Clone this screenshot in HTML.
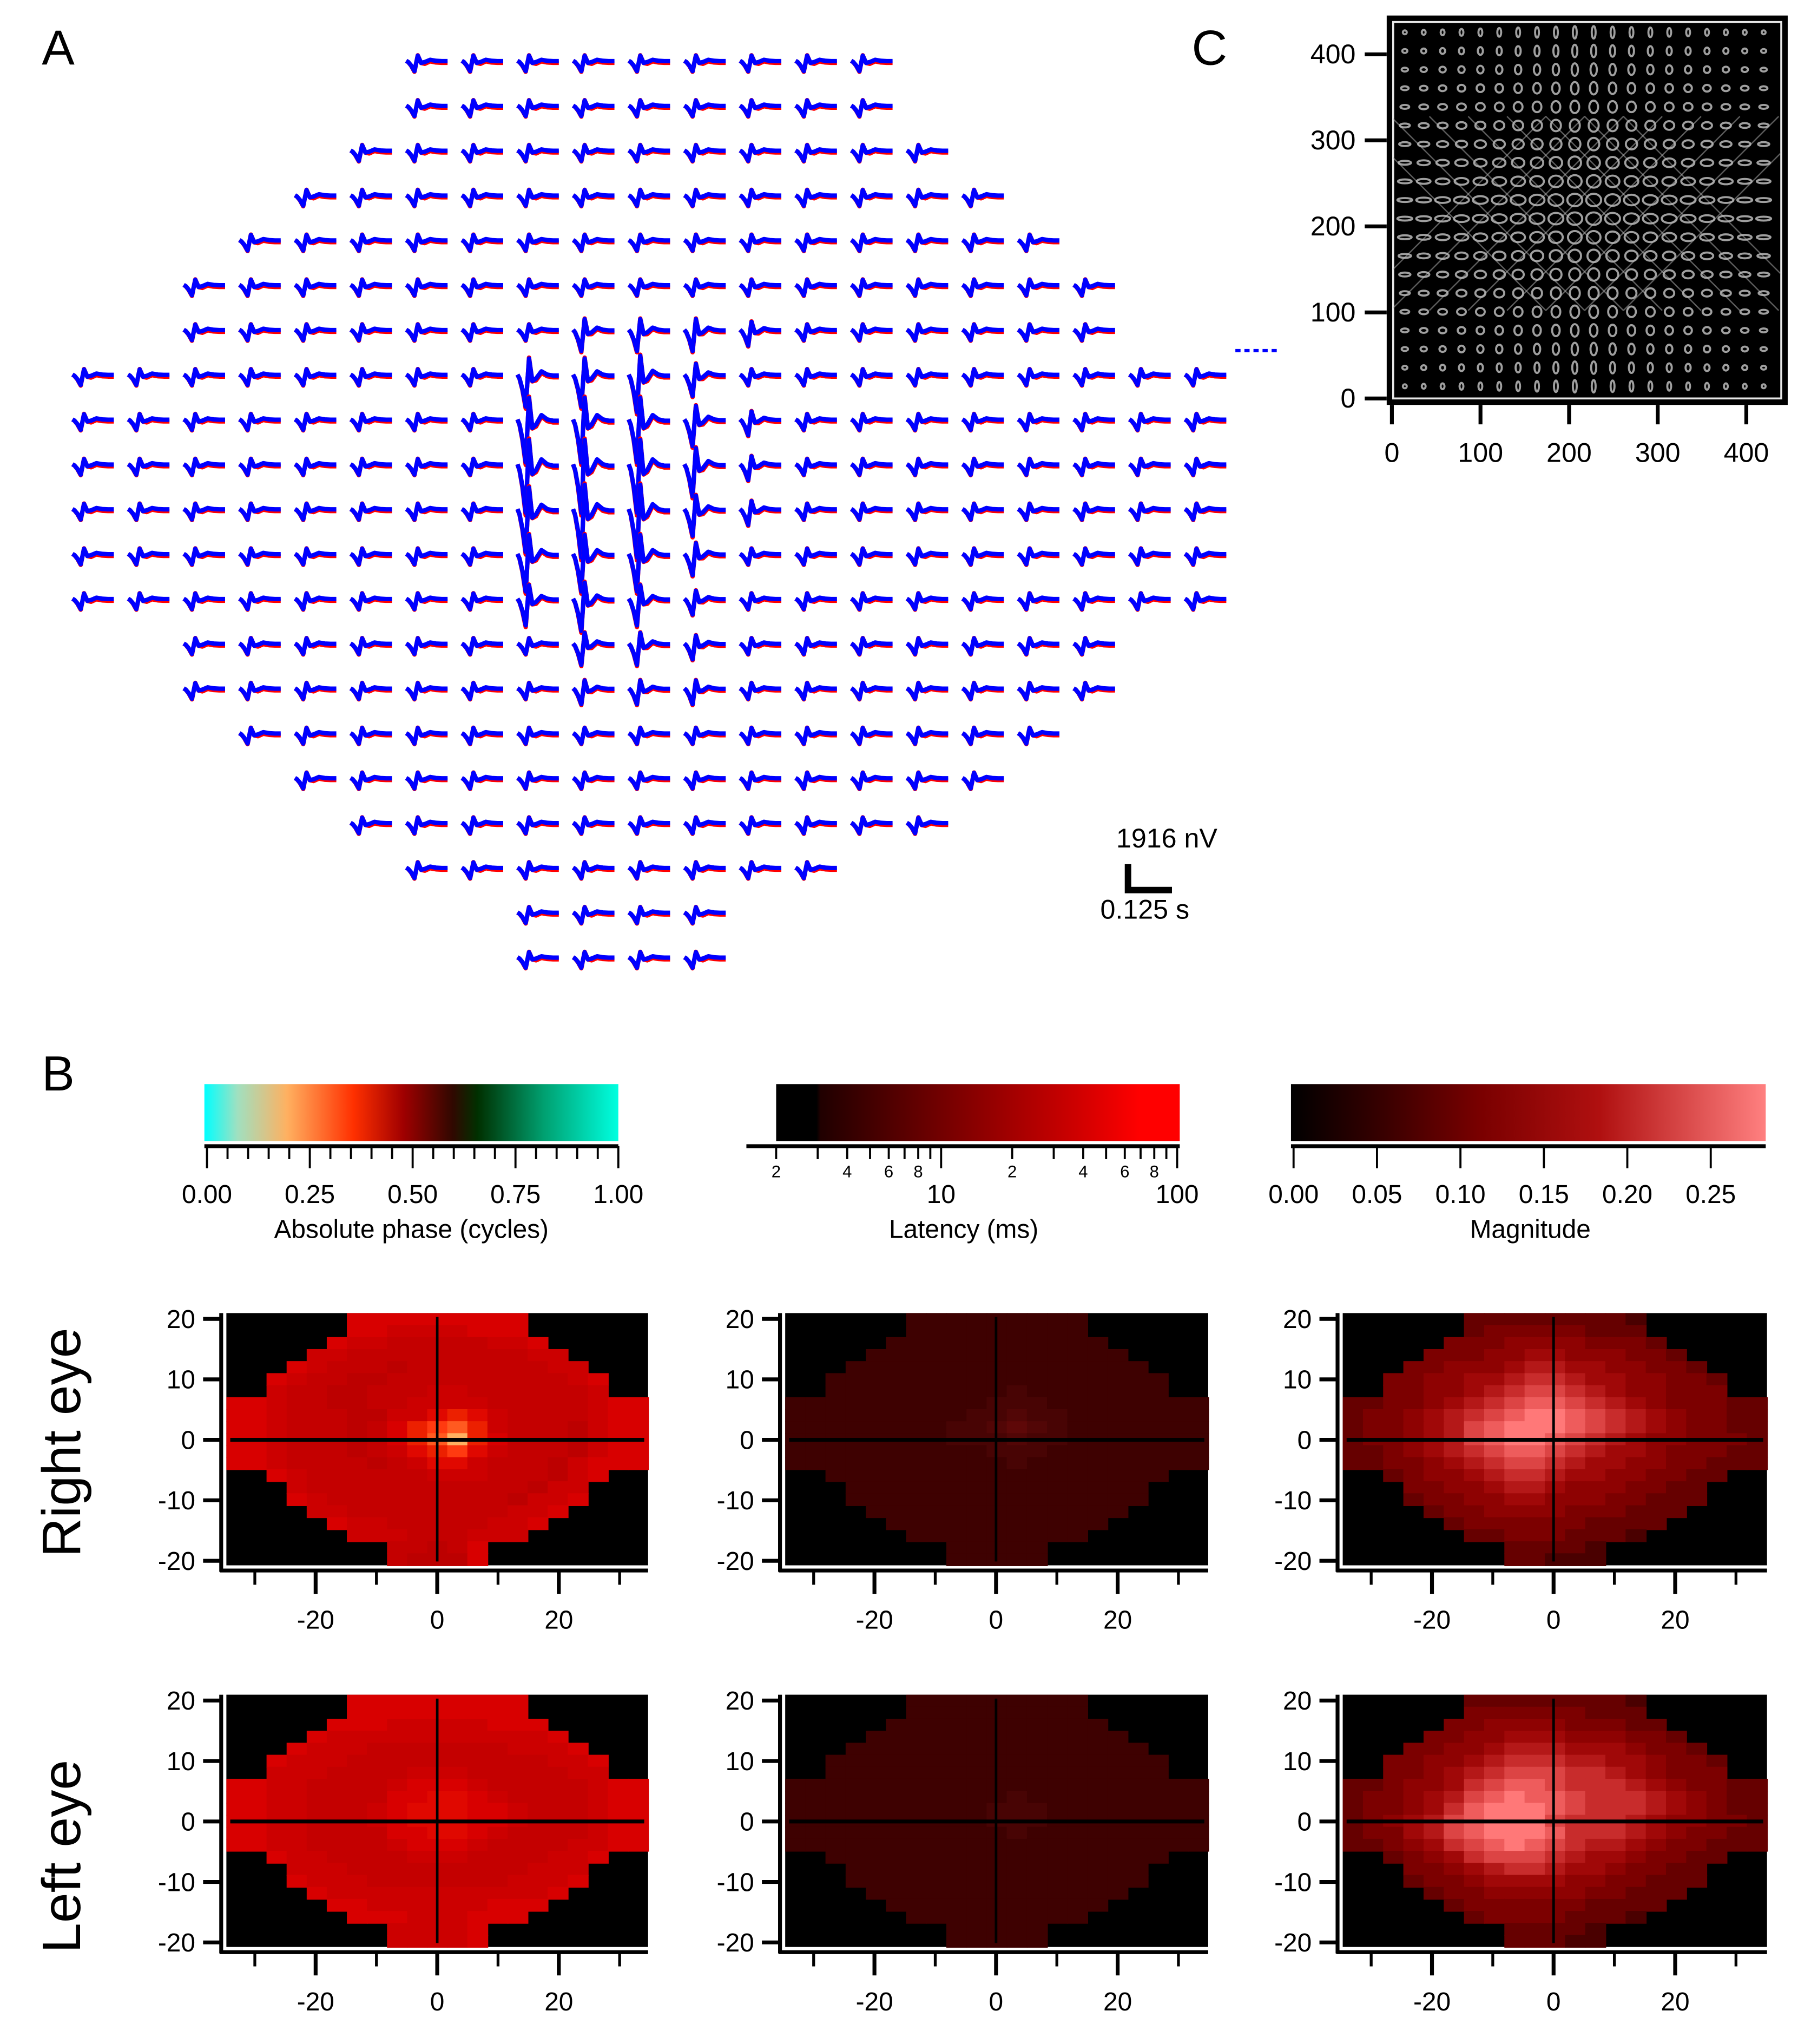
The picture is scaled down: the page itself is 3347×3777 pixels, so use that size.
<!DOCTYPE html>
<html><head><meta charset="utf-8"><style>
html,body{margin:0;padding:0;background:#fff;}
svg{display:block;font-family:"Liberation Sans",Arial,sans-serif;}
</style></head><body>
<svg id="fig" xmlns="http://www.w3.org/2000/svg" width="3347" height="3777" viewBox="0 0 1400 1580" preserveAspectRatio="none">
<defs>
<linearGradient id="gPhase" x1="0" x2="1" y1="0" y2="0">
<stop offset="0" stop-color="#00ffff"/><stop offset="0.08" stop-color="#a0e0c0"/><stop offset="0.2" stop-color="#ffb060"/><stop offset="0.36" stop-color="#ff3000"/><stop offset="0.48" stop-color="#a00000"/><stop offset="0.6" stop-color="#300800"/><stop offset="0.66" stop-color="#003000"/><stop offset="0.82" stop-color="#00a070"/><stop offset="1" stop-color="#00ffe0"/>
</linearGradient>
<linearGradient id="gLat" x1="0" x2="1" y1="0" y2="0">
<stop offset="0" stop-color="#000"/><stop offset="0.1" stop-color="#000"/><stop offset="0.11" stop-color="#200000"/><stop offset="0.4" stop-color="#700000"/><stop offset="0.75" stop-color="#d00000"/><stop offset="0.9" stop-color="#ff0000"/><stop offset="1" stop-color="#ff0000"/>
</linearGradient>
<linearGradient id="gMag" x1="0" x2="1" y1="0" y2="0">
<stop offset="0" stop-color="#000"/><stop offset="0.2" stop-color="#3a0000"/><stop offset="0.4" stop-color="#7a0000"/><stop offset="0.65" stop-color="#b01010"/><stop offset="1" stop-color="#ff8080"/>
</linearGradient>
<clipPath id="clipC"><rect x="1077" y="17" width="300" height="291"/></clipPath>
</defs>
<g id="root"></g>
</svg>
<script>
// ---------- DATA ----------
const traceAmp = [
"......111111111......",
"......111111111......",
".....11111111111.....",
"....1111111111111....",
"...111111111111111...",
"..11111111111111111..",
"..11111113332111111..",
"111111115563111111111",
"111111117774211111111",
"111111118885211111111",
"111111117884211111111",
"111111116663111111111",
"111111114542111111111",
"..11111113321111111..",
"..11111112221111111..",
"...111111111111111...",
"....1111111111111....",
".....11111111111.....",
"......11111111.......",
"........1111.........",
"........1111........."];
const waveT = [0,0.05,0.12,0.2,0.28,0.36,0.45,0.58,0.72,0.86,1];
const waveV = [0,0.12,0.45,1.0,-0.5,0.2,0.12,-0.1,0,0.03,0.03];

const heatMask = [
"......#########......",
"......#########......",
".....###########.....",
"....#############....",
"...###############...",
"..#################..",
"..#################..",
"#####################",
"#####################",
"#####################",
"#####################",
"#####################",
"#####################",
"..#################..",
"...###############...",
"...###############...",
"....#############....",
".....###########.....",
"......#########......",
"........#####........",
"........#####........"];

const phaseRight = [
"444444444444444444444","444444443333444444444","444444332222233444444","444433222222222334444",
"444432221222222233444","444322112222222223444","443221122233222222344","443221122333322222344",
"443222113356532222344","443222124678632221344","443222124689642221344","443222123567532221344",
"443222212355322213444","444322222233322213444","444322222222222133444","444432222222221334444",
"444433222222223344444","444444332222233444444","444444333222333444444","444444442212444444444",
"444444442111444444444"];
const phaseLeft = [
"444444444444444444444","444444444444444444444","444444443333344444444","444443333333333344444",
"444433322222223334444","444333222222222233444","443332222333222223344","443322223444322222344",
"443322224455432222344","443322234555443222344","443322234555443222344","443322224455432222344",
"443322223444322223344","444332222333222233444","444333222222222333444","444433322222223334444",
"444443333333333344444","444444433333344444444","444444444333444444444","444444443333444444444",
"444444443333444444444"];
const latRight = [
"333333333333333333333","333333333333333333333","333333333333333333333","333333333333333333333",
"333333333333333333333","333333333333333333333","333333333334333333333","333333333344433333333",
"333333333445443333333","333333334456543333333","333333334445443333333","333333333344433333333",
"333333333334333333333","333333333333333333333","333333333333333333333","333333333333333333333",
"333333333333333333333","333333333333333333333","333333333333333333333","333333333333333333333",
"333333333333333333333"];
const latLeft = [
"333333333333333333333","333333333333333333333","333333333333333333333","333333333333333333333",
"333333333333333333333","333333333333333333333","333333333333333333333","333333333333333333333",
"333333333334333333333","333333333344433333333","333333333344433333333","333333333334333333333",
"333333333333333333333","333333333333333333333","333333333333333333333","333333333333333333333",
"333333333333333333333","333333333333333333333","333333333333333333333","333333333333333333333",
"333333333333333333333"];
const magRight = [
"000011111111110000000","000111122222111000000","001112223333222110000","011122233443332211100",
"011223334554433221110","112233445665443322111","112233456776543322211","112234567887654322211",
"122345678998765432211","122345789998765432211","122345789987654332221","112345678876544322211",
"112234567765443322111","111233456654433221110","011223345543332211100","011122334433322111000",
"001112233332221110000","000111222222111100000","000011112221110000000","000001111111000000000",
"000000011100000000000"];
const magLeft = [
"000011111111110000000","000111222222111000000","001112233332221110000","011122334443332211100",
"011223345554443221110","112233456665544322111","112234567776654322211","112334678876665432211",
"122345789887666543211","122346899987666543211","123457899976665433221","122457899986665432211",
"112346789876554322111","111234677765443221110","011223456654432211100","011122344443322111000",
"001112233333221110000","000111222222111100000","000011122221110000000","000001111111000000000",
"000000111110000000000"];

const palPhase = ["#b00000","#bc0000","#c40000","#cc0000","#d80000","#e00800","#ec2000","#ff3a10","#ff5a20","#ffb060"];
const palLat = ["#2c0000","#320000","#380000","#3e0101","#480404","#520606","#5e0808","#6a0a0a","#760c0c","#820e0e"];
const palMag = ["#4a0000","#660000","#7c0000","#8e0202","#a00808","#b41818","#c82c2c","#dc4444","#ee5c5c","#ff7878"];

const phaseTicks = [0,0.25,0.5,0.75,1.0];
const phaseTickLabels = ["0.00","0.25","0.50","0.75","1.00"];
const latMinor = [2,3,4,5,6,7,8,9,20,30,40,50,60,70,80,90];
const latSmallLabels = [2,4,6,8,20,40,60,80];
const latMajor = [10,100];
const magTicks = [0,0.05,0.1,0.15,0.2,0.25];
const magTickLabels = ["0.00","0.05","0.10","0.15","0.20","0.25"];
const heatXTicks = [-30,-20,-10,0,10,20,30];
const heatXLabels = [-20,0,20];
const heatYTicks = [20,10,0,-10,-20];
const cTicks = [0,100,200,300,400];

// ---------- HELPERS ----------
const NS="http://www.w3.org/2000/svg";
const root=document.getElementById('root');
function mk(tag,attrs,parent){const e=document.createElementNS(NS,tag);for(const k in attrs)e.setAttribute(k,attrs[k]);(parent||root).appendChild(e);return e;}
function txt(s,x,y,size,anchor,parent){const t=mk('text',{x:x,y:y,'font-size':size,'text-anchor':anchor||'middle',fill:'#000'},parent);t.textContent=s;return t;}

// ---------- PANEL LETTERS ----------
let t;
t=txt("A",45,50,38,'middle');
t=txt("B",45,843,38,'middle');
t=txt("C",935,50,38,'middle');

// ---------- PANEL A TRACES ----------
const gA=mk('g',{});


function colX(c){return 56+43*c;}
function rowY(r){return 47+34.65*r;}
function wavePath(x0,y0,amp,scaleMul,tailOff){
  const s=(8+4.2*(amp-1))*scaleMul;
  let d="";
  for(let i=0;i<waveT.length;i++){
    const x=x0+waveT[i]*32;
    const off=(waveT[i]>0.4?tailOff:0);
    const y=y0+waveV[i]*s+off;
    d+=(i?"L":"M")+x.toFixed(2)+","+y.toFixed(2);
  }
  return d;
}
for(let r=0;r<traceAmp.length;r++){
  for(let c=0;c<traceAmp[r].length;c++){
    const ch=traceAmp[r][c]; if(ch==='.')continue;
    const a=+ch;
    const pr=mk('path',{d:wavePath(colX(c),rowY(r),a,1.06,1.3),fill:'none',stroke:'#ff0000','stroke-width':3.4,'stroke-linejoin':'round'},gA);
    
    
    const pb=mk('path',{d:wavePath(colX(c),rowY(r),a,1.0,0),fill:'none',stroke:'#0000ff','stroke-width':3.4,'stroke-linejoin':'round'},gA);
    
    
  }
}
// scale bar
const sb=mk('path',{d:"M872,668 L872,688 L906,688",fill:'none',stroke:'#000','stroke-width':5});


t=txt("1916 nV",902,655,21,'middle');
t=txt("0.125 s",885,710,21,'middle');
const dl=mk('line',{x1:955,y1:271,x2:988,y2:271,stroke:'#0000ff','stroke-width':2.5,'stroke-dasharray':'4,3'});



// ---------- PANEL C ----------
const gC=mk('g',{});


mk('rect',{x:1072,y:12,width:310,height:301,fill:'#000'},gC);
mk('rect',{x:1077,y:17,width:300,height:291,fill:'none',stroke:'#e8e8e8','stroke-width':1.5},gC);
const gCi=mk('g',{'clip-path':'url(#clipC)'},gC);
function cx(v){return 1076+v*0.685;}
function cy(v){return 308-v*0.665;}
for(let i=0;i<20;i++){for(let j=0;j<20;j++){
  const x=1086+i*14.6, y=25+j*14.4;
  const di=Math.abs(i-9.5)/9.5, dj=Math.abs(j-9.5)/9.5;
  const rx=Math.max(1,6*(1-dj*0.75)), ry=Math.max(1.2,5*(1-di*0.7));
  const e=mk('ellipse',{cx:x,cy:y,rx:rx,ry:ry,fill:'none',stroke:'#b0b0b0','stroke-width':1.6,opacity:0.9},gCi);
  
  
}}
for(let k=0;k<8;k++){
  const o=(k-3.5)*30;
  mk('line',{x1:1150+o,y1:90,x2:1300+o,y2:240,stroke:'#bbb','stroke-width':1,opacity:0.5},gCi);
  mk('line',{x1:1150+o,y1:240,x2:1300+o,y2:90,stroke:'#bbb','stroke-width':1,opacity:0.5},gCi);
}
const cyAx=mk('g',{});
const cxAx=mk('g',{});
cTicks.forEach(v=>{
  mk('line',{x1:1055,y1:cy(v),x2:1072,y2:cy(v),stroke:'#000','stroke-width':3},cyAx);
  const a=txt(String(v),1048,cy(v)+7,21,'end',cyAx);
  mk('line',{x1:cx(v),y1:313,x2:cx(v),y2:328,stroke:'#000','stroke-width':3},cxAx);
  const b=txt(String(v),cx(v),357,21,'middle',cxAx);
});

// ---------- COLORBARS ----------
function cbar(x,w,grad,name){
  const r=mk('rect',{x:x,y:838,width:w,height:44,fill:'url(#'+grad+')'});
  
  
}
cbar(158,320,'gPhase','phase-colorbar');
cbar(600,312,'gLat','latency-colorbar');
cbar(998,367,'gMag','magnitude-colorbar');
const gPA=mk('g',{});
mk('line',{x1:158,y1:886,x2:478,y2:886,stroke:'#000','stroke-width':3},gPA);
function px(v){return 160+v*318;}
for(let i=0;i<=20;i++){const v=i*0.05;mk('line',{x1:px(v),y1:886,x2:px(v),y2:(i%5===0?903:896),stroke:'#000','stroke-width':1.6},gPA);}
phaseTicks.forEach((v,i)=>{const a=txt(phaseTickLabels[i],px(v),930,20,'middle',gPA);});
t=txt("Absolute phase (cycles)",318,957,20,'middle');
const gLA=mk('g',{});
mk('line',{x1:577,y1:886,x2:912,y2:886,stroke:'#000','stroke-width':3},gLA);
function lx(v){return 600+310*Math.log10(v/2)/Math.log10(50);}
latMinor.forEach(v=>mk('line',{x1:lx(v),y1:886,x2:lx(v),y2:896,stroke:'#000','stroke-width':1.6},gLA));
latMajor.forEach(v=>mk('line',{x1:lx(v),y1:886,x2:lx(v),y2:903,stroke:'#000','stroke-width':1.6},gLA));
latSmallLabels.forEach(v=>{const s=String(v)[0];const a=txt(s,lx(v),910,13,'middle',gLA);});
latMajor.forEach(v=>{const a=txt(String(v),lx(v),930,20,'middle',gLA);});
t=txt("Latency (ms)",745,957,20,'middle');
const gMA=mk('g',{});
mk('line',{x1:998,y1:886,x2:1365,y2:886,stroke:'#000','stroke-width':3},gMA);
function mx(v){return 1000+v*1290;}
magTicks.forEach((v,i)=>{mk('line',{x1:mx(v),y1:886,x2:mx(v),y2:903,stroke:'#000','stroke-width':1.6},gMA);
  const a=txt(magTickLabels[i],mx(v),930,20,'middle',gMA);});
t=txt("Magnitude",1183,957,20,'middle');

// ---------- HEATMAPS ----------
function heat(vals,pal,x0,y0,w,h,name){
  const g=mk('g',{});
  
  
  mk('rect',{x:x0,y:y0,width:w,height:h,fill:'#000'},g);
  const cw=w/21,ch=h/21;
  for(let r=0;r<21;r++)for(let c=0;c<21;c++){
    if(heatMask[r][c]!=='#')continue;
    const cell=mk('rect',{x:(x0+c*cw).toFixed(2),y:(y0+r*ch).toFixed(2),width:(cw+0.6).toFixed(2),height:(ch+0.6).toFixed(2),fill:pal[+vals[r][c]]},g);
    
    
  }
  const xs=v=>x0+163+v*4.7, ys=v=>y0+98-v*4.675;
  mk('line',{x1:xs(0),y1:y0+3,x2:xs(0),y2:y0+h-3,stroke:'#000','stroke-width':2},g);
  mk('line',{x1:x0+3,y1:ys(0),x2:x0+w-3,y2:ys(0),stroke:'#000','stroke-width':3},g);
  mk('line',{x1:x0-4,y1:y0,x2:x0-4,y2:y0+h+5,stroke:'#000','stroke-width':3},g);
  mk('line',{x1:x0-5,y1:y0+h+4,x2:x0+w,y2:y0+h+4,stroke:'#000','stroke-width':3},g);
  heatYTicks.forEach(v=>{mk('line',{x1:x0-18,y1:ys(v),x2:x0-4,y2:ys(v),stroke:'#000','stroke-width':3},g);
    const a=txt(String(v),x0-24,ys(v)+7,20,'end',g);});
  heatXTicks.forEach(v=>{const maj=(v%20===0);mk('line',{x1:xs(v),y1:y0+h+4,x2:xs(v),y2:y0+h+(maj?22:15),stroke:'#000','stroke-width':maj?3:2.2},g);});
  heatXLabels.forEach(v=>{const a=txt(String(v),xs(v),y0+h+49,20,'middle',g);});
}
heat(phaseRight,palPhase,175,1015,326,195,'heatmap-phase-right');
heat(latRight,palLat,607,1015,327,195,'heatmap-latency-right');
heat(magRight,palMag,1038,1015,328,195,'heatmap-magnitude-right');
heat(phaseLeft,palPhase,175,1310,326,195,'heatmap-phase-left');
heat(latLeft,palLat,607,1310,327,195,'heatmap-latency-left');
heat(magLeft,palMag,1038,1310,328,195,'heatmap-magnitude-left');

t=txt("Right eye",62,1115,42,'middle');t.setAttribute('transform','rotate(-90 62 1115)');

t=txt("Left eye",62,1435,42,'middle');t.setAttribute('transform','rotate(-90 62 1435)');

</script>
</body></html>
